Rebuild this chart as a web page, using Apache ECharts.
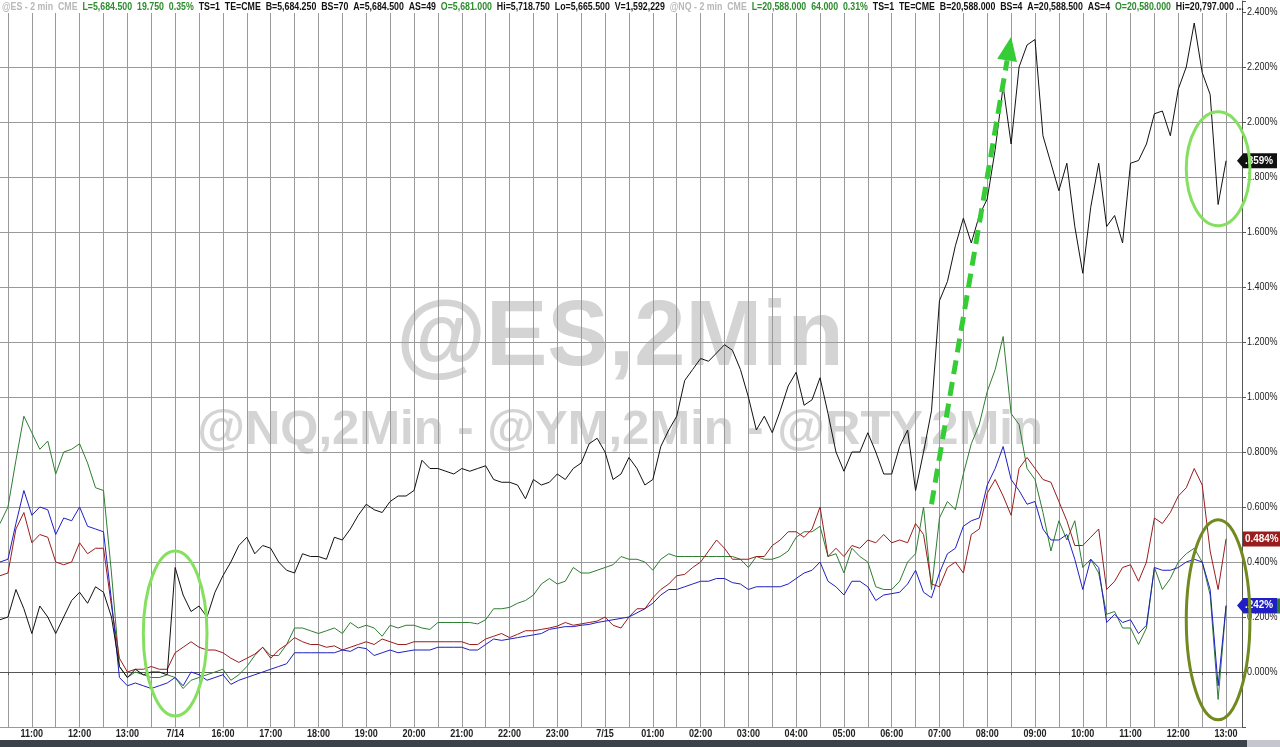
<!DOCTYPE html>
<html>
<head>
<meta charset="utf-8">
<script src="https://cdn.jsdelivr.net/npm/echarts@6/dist/echarts.min.js"></script>
<style>
html,body{margin:0;padding:0;background:#fff;}
#chart{width:1280px;height:747px;}
</style>
</head>
<body>
<div id="chart"></div>
<script>
// ---- categories: 10-minute bars of the two sessions (14:00-15:00 break skipped)
const session1 = ['10:20', '13:50'];
const session2 = ['15:00', '13:20'];
const dateLabels = { '15:00': '7/14', '00:00': '7/15' };
const yTickLabels = ['0.000%','0.200%','0.400%','0.600%','0.800%','1.000%','1.200%','1.400%','1.600%','1.800%','2.000%','2.200%','2.400%'];

// ---- series values (% change), one value per 10-minute category
const blackSeries = [0.19,0.20,0.30,0.23,0.14,0.24,0.20,0.14,0.20,0.26,0.29,0.25,0.31,0.29,0.20,0.02,-0.02,0.01,-0.01,0.00,0.00,-0.01,
0.38,0.28,0.22,0.24,0.20,0.29,0.35,0.40,0.46,0.49,0.43,0.46,0.45,0.40,0.37,0.36,0.43,0.42,0.42,0.41,0.49,0.48,0.52,0.57,0.61,0.59,0.58,0.62,
0.64,0.64,0.66,0.77,0.74,0.74,0.73,0.72,0.74,0.73,0.74,0.75,0.70,0.69,0.69,0.68,0.63,0.70,0.68,0.69,0.72,0.70,0.74,0.76,0.83,0.85,0.80,0.70,
0.72,0.78,0.74,0.68,0.70,0.82,0.88,0.93,1.06,1.10,1.14,1.13,1.16,1.19,1.17,1.10,1.00,0.88,0.93,0.87,0.95,1.04,1.09,0.97,0.99,1.07,0.94,0.80,
0.73,0.80,0.80,0.87,0.80,0.72,0.72,0.82,0.88,0.66,0.80,0.95,1.35,1.42,1.55,1.65,1.56,1.66,1.72,1.90,2.13,1.92,2.20,2.28,2.30,1.95,1.85,1.75,
1.85,1.62,1.45,1.69,1.85,1.62,1.66,1.56,1.85,1.86,1.92,2.03,2.04,1.95,2.12,2.20,2.36,2.18,2.10,1.70,1.859];

const greenSeries = [0.54,0.60,0.77,0.93,0.87,0.81,0.84,0.72,0.80,0.81,0.83,0.76,0.67,0.66,0.36,0.02,-0.02,0.00,-0.01,-0.02,-0.02,-0.01,
-0.02,-0.06,-0.03,-0.02,-0.01,0.00,0.01,-0.03,-0.01,0.02,0.06,0.09,0.06,0.06,0.10,0.16,0.16,0.15,0.14,0.15,0.16,0.14,0.18,0.16,0.17,0.16,0.13,0.17,
0.16,0.17,0.17,0.16,0.155,0.18,0.18,0.18,0.18,0.18,0.175,0.19,0.23,0.23,0.235,0.25,0.26,0.28,0.32,0.34,0.32,0.33,0.38,0.36,0.36,0.37,0.38,0.39,
0.42,0.41,0.41,0.40,0.37,0.41,0.43,0.42,0.42,0.42,0.42,0.42,0.42,0.42,0.42,0.41,0.38,0.42,0.41,0.41,0.42,0.44,0.49,0.51,0.51,0.53,0.42,0.43,
0.36,0.45,0.42,0.40,0.31,0.30,0.30,0.33,0.40,0.43,0.60,0.30,0.56,0.62,0.59,0.72,0.83,0.90,1.02,1.10,1.22,0.94,0.90,0.74,0.70,0.58,0.44,0.55,
0.48,0.55,0.38,0.41,0.36,0.21,0.22,0.16,0.16,0.10,0.16,0.38,0.30,0.34,0.40,0.43,0.45,0.40,0.28,-0.10,0.24];

const redSeries = [0.35,0.36,0.52,0.58,0.47,0.50,0.49,0.40,0.39,0.40,0.47,0.43,0.45,0.45,0.24,0.05,0.00,0.01,0.01,0.02,0.01,0.01,
0.07,0.09,0.11,0.09,0.08,0.08,0.07,0.05,0.035,0.05,0.065,0.09,0.05,0.08,0.10,0.125,0.11,0.10,0.10,0.09,0.095,0.08,0.09,0.10,0.11,0.10,0.12,0.11,
0.10,0.10,0.11,0.11,0.11,0.11,0.11,0.11,0.11,0.10,0.10,0.12,0.13,0.14,0.125,0.137,0.15,0.15,0.155,0.16,0.167,0.18,0.17,0.175,0.18,0.185,0.20,0.17,
0.16,0.20,0.23,0.23,0.27,0.30,0.32,0.35,0.355,0.38,0.40,0.44,0.48,0.45,0.41,0.41,0.41,0.42,0.42,0.46,0.48,0.51,0.51,0.49,0.52,0.60,0.42,0.45,
0.42,0.46,0.45,0.48,0.47,0.50,0.47,0.48,0.47,0.54,0.50,0.32,0.31,0.38,0.40,0.36,0.50,0.52,0.65,0.70,0.64,0.57,0.74,0.78,0.74,0.70,0.69,0.62,
0.55,0.46,0.46,0.49,0.52,0.30,0.33,0.38,0.39,0.33,0.40,0.56,0.54,0.58,0.64,0.67,0.74,0.68,0.44,0.30,0.484];

const blueSeries = [0.40,0.41,0.54,0.66,0.57,0.60,0.59,0.50,0.56,0.55,0.60,0.53,0.52,0.51,0.26,-0.02,-0.05,-0.04,-0.05,-0.06,-0.05,-0.04,
-0.02,-0.05,0.00,-0.01,-0.03,-0.02,-0.01,-0.045,-0.03,-0.02,-0.01,0.00,0.01,0.02,0.03,0.07,0.07,0.07,0.07,0.07,0.07,0.08,0.075,0.09,0.085,0.06,0.07,0.08,
0.07,0.075,0.08,0.08,0.08,0.09,0.09,0.09,0.09,0.08,0.08,0.10,0.12,0.115,0.12,0.125,0.13,0.135,0.14,0.155,0.16,0.165,0.165,0.17,0.173,0.18,0.185,0.19,
0.195,0.20,0.215,0.23,0.25,0.28,0.30,0.30,0.31,0.32,0.33,0.33,0.34,0.34,0.325,0.32,0.30,0.31,0.31,0.31,0.31,0.32,0.34,0.36,0.37,0.40,0.33,0.31,
0.28,0.33,0.33,0.31,0.26,0.28,0.285,0.29,0.32,0.37,0.29,0.27,0.36,0.43,0.45,0.53,0.55,0.56,0.68,0.74,0.82,0.70,0.66,0.61,0.62,0.52,0.48,0.48,
0.50,0.41,0.30,0.41,0.38,0.18,0.21,0.18,0.19,0.14,0.17,0.38,0.37,0.37,0.38,0.40,0.41,0.40,0.30,-0.05,0.242];

// ---- build the category list from the sessions
function toMin(s){ const p = s.split(':'); return (+p[0])*60 + (+p[1]); }
function fmt(m){ m = ((m % 1440) + 1440) % 1440; const h = Math.floor(m/60), mm = m%60; return (h<10?'0':'')+h+':'+(mm<10?'0':'')+mm; }
const categories = [];
(function(){
  let a = toMin(session1[0]), b = toMin(session1[1]);
  for (let m=a; m<=b; m+=10) categories.push(fmt(m));
  a = toMin(session2[0]); b = toMin(session2[1]) + 1440;
  for (let m=a; m<=b; m+=10) categories.push(fmt(m));
})();

const isHour = (i, v) => /:00$/.test(v);
const isHalf = (i, v) => /:(00|30)$/.test(v);

const SANS = '"Liberation Sans",Arial,sans-serif';
const NARROW_X = 0.82;   // horizontal squeeze to imitate a narrow face

const chart = echarts.init(document.getElementById('chart'), null, {renderer:'canvas'});

function mkLine(name, data, color){
  return { name, type:'line', data, showSymbol:false, symbol:'none', animation:false,
    lineStyle:{ width:1, color }, itemStyle:{ color }, emphasis:{ disabled:true }, z: 3 };
}

const option = {
  animation:false,
  backgroundColor:'#ffffff',
  grid:{ left:0, right:38, top:1, bottom:20, containLabel:false },
  xAxis:{
    type:'category', data:categories, boundaryGap:false,
    axisLine:{ show:true, lineStyle:{ color:'#555', width:1 } },
    axisTick:{ show:true, interval:isHalf, length:3, lineStyle:{ color:'#555' } },
    axisLabel:{ show:false },
    splitLine:{ show:true, interval:isHalf, lineStyle:{ color:'#9a9a9a', width:1 } }
  },
  yAxis:{
    type:'value', position:'right', min:-0.2, max:2.44, interval:0.2, scale:false,
    axisLine:{ show:true, lineStyle:{ color:'#555' } },
    axisTick:{ show:true, length:4, lineStyle:{ color:'#555' } },
    axisLabel:{ show:false },
    splitLine:{ show:true, lineStyle:{ color:'#9a9a9a', width:1 } }
  },
  series:[
    mkLine('green', greenSeries, '#2f7d32'),
    mkLine('red', redSeries, '#9b1c1c'),
    mkLine('blue', blueSeries, '#1f1fc4'),
    mkLine('black', blackSeries, '#111111')
  ]
};
chart.setOption(option);

// ---- overlays positioned through the chart's own scales
function px(ix, v){ return chart.convertToPixel({gridIndex:0}, [ix, v]); }
function ellipse(cIdx, cVal, dIdx, dVal, color){
  const c = px(cIdx, cVal), e = px(cIdx + dIdx, cVal - dVal);
  return { type:'ellipse', z:100, shape:{ cx:c[0], cy:c[1], rx:Math.abs(e[0]-c[0]), ry:Math.abs(e[1]-c[1]) },
    style:{ fill:'none', stroke:color, lineWidth:3 } };
}
const graphics = [];

// axis labels (narrow look)
categories.forEach((c, i) => {
  if (!isHour(i, c)) return;
  const x = chart.convertToPixel({xAxisIndex:0}, i);
  graphics.push({ type:'text', x:x, y:734, scaleX:NARROW_X, z:20, silent:true,
    style:{ text: dateLabels[c] || c, font:'bold 11px ' + SANS, fill:'#222', align:'center', verticalAlign:'middle' } });
});
yTickLabels.forEach((t, k) => {
  const y = chart.convertToPixel({yAxisIndex:0}, k * 0.2);
  graphics.push({ type:'text', x:1247, y:y, scaleX:NARROW_X, z:20, silent:true,
    style:{ text:t, font:'11px ' + SANS, fill:'#222', align:'left', verticalAlign:'middle' } });
});

// header
const HF = 'bold 10px ' + SANS;
graphics.push({ type:'rect', z:49, silent:true, shape:{ x:0, y:0, width:1242, height:13 }, style:{ fill:'#ffffff' } });
graphics.push({
  type:'text', x:2, y:2, scaleX:0.88, z:50, silent:true,
  style:{
    text:'{g|@ES - 2 min  CME}  {n|L=5,684.500  19.750  0.35%}  {k|TS=1  TE=CME  B=5,684.250  BS=70  A=5,684.500  AS=49}  {n|O=5,681.000}  {k|Hi=5,718.750  Lo=5,665.500  V=1,592,229}  {g|@NQ - 2 min  CME}  {n|L=20,588.000  64.000  0.31%}  {k|TS=1  TE=CME  B=20,588.000  BS=4  A=20,588.500  AS=4}  {n|O=20,580.000}  {k|Hi=20,797.000 ...}',
    font:HF, fill:'#111', verticalAlign:'top',
    rich:{
      g:{ fill:'#b8b8b8', font:HF },
      n:{ fill:'#2e8b2e', font:HF },
      k:{ fill:'#111111', font:HF }
    }
  }
});
// watermarks
graphics.push({ type:'text', x:620, y:340, z:-10, silent:true,
  style:{ text:'@ES,2Min', font:'bold 92px ' + SANS, fill:'#d4d4d4', align:'center', verticalAlign:'middle' } });
graphics.push({ type:'text', x:620, y:430, z:-10, silent:true,
  style:{ text:'@NQ,2Min - @YM,2Min - @RTY,2Min', font:'bold 49px ' + SANS, fill:'#d4d4d4', align:'center', verticalAlign:'middle' } });

// ellipses
graphics.push(ellipse(22.2, 0.14, 3.3, 0.30, '#86e060'));
graphics.push(ellipse(153.4, 1.83, 3.4, 0.207, '#86e060'));
graphics.push(ellipse(153.4, 0.19, 3.1, 0.364, '#71891f'));

// dashed arrow
(function(){
  const a = px(117.2, 0.61), b = px(127.1, 2.31);
  const dx = b[0]-a[0], dy = b[1]-a[1], L = Math.hypot(dx, dy), ux = dx/L, uy = dy/L;
  const headLen = 24, headW = 10;
  const base = [b[0]-ux*headLen, b[1]-uy*headLen];
  graphics.push({ type:'line', z:100, shape:{ x1:a[0], y1:a[1], x2:base[0], y2:base[1] },
    style:{ stroke:'#36cc36', lineWidth:5, lineDash:[14,8] } });
  graphics.push({ type:'polygon', z:100, shape:{ points:[[b[0],b[1]],[base[0]-uy*headW, base[1]+ux*headW],[base[0]+uy*headW, base[1]-ux*headW]] },
    style:{ fill:'#36cc36' } });
})();

// last-value boxes on the right axis
function lastBox(val, text, bg, pointer, w){
  const y = chart.convertToPixel({yAxisIndex:0}, val);
  const x0 = 1243;
  if (pointer) graphics.push({ type:'polygon', z:60, shape:{ points:[[x0-6,y],[x0,y-7],[x0,y+7]] }, style:{ fill:bg } });
  graphics.push({ type:'rect', z:60, shape:{ x:x0, y:y-7.5, width:w, height:15 }, style:{ fill:bg } });
  graphics.push({ type:'text', z:61, x:x0+2, y:y, scaleX:0.9, style:{ text:text, font:'bold 11px ' + SANS, fill:'#fff', verticalAlign:'middle' } });
}
const lastG = greenSeries[greenSeries.length-1];
const lastB = blackSeries[blackSeries.length-1];
const lastR = redSeries[redSeries.length-1];
const lastBl = blueSeries[blueSeries.length-1];
lastBox(lastG, '', '#2f7d32', false, 37);
lastBox(lastB, lastB.toFixed(3).slice(1) + '%', '#111111', true, 34);
lastBox(lastR, lastR.toFixed(3) + '%', '#9b1c1c', false, 37);
lastBox(lastBl, lastBl.toFixed(3).slice(1) + '%', '#1f1fc4', true, 34);

// bottom scroll bar
graphics.push({ type:'rect', z:40, shape:{ x:0, y:740, width:1280, height:7 }, style:{ fill:'#3c414a' } });
graphics.push({ type:'rect', z:41, shape:{ x:1247, y:740, width:33, height:7 }, style:{ fill:'#c4c8ce' } });

chart.setOption({ graphic: graphics });
</script>
</body>
</html>
